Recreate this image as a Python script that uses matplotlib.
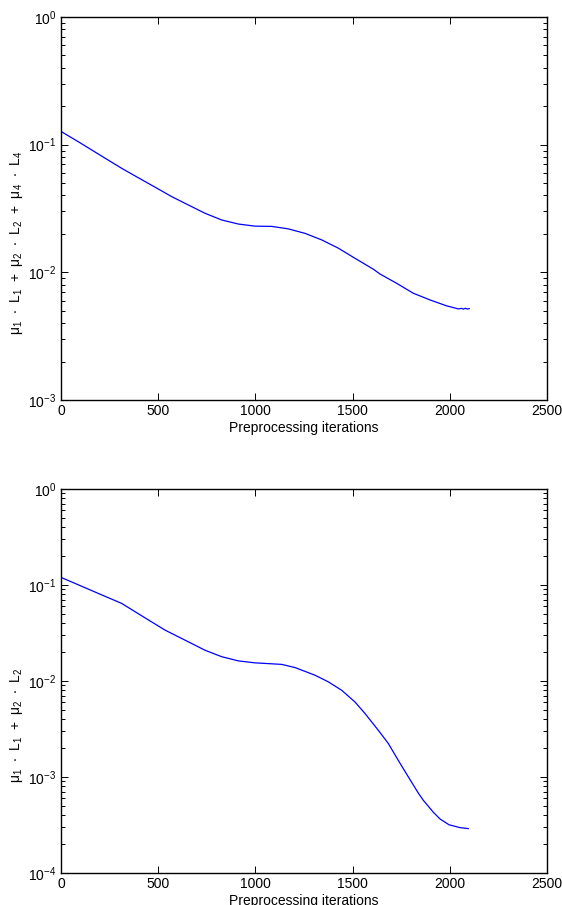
import matplotlib
matplotlib.use("Agg")
import matplotlib.pyplot as plt
from matplotlib.ticker import LogLocator, NullFormatter, MultipleLocator

plt.rcParams['font.family'] = ['Liberation Sans', 'DejaVu Sans']
plt.rcParams['mathtext.default'] = 'regular'
plt.rcParams['mathtext.fontset'] = 'custom'
plt.rcParams['mathtext.rm'] = 'Liberation Sans'

# Top panel: mu1*L1 + mu2*L2 + mu4*L4
iters_top = [0, 100, 200, 312, 400, 500, 569, 650, 741, 827, 912, 998, 1084, 1169,
             1255, 1341, 1427, 1512, 1607, 1641, 1727, 1812, 1898, 1984, 2044,
             2060, 2070, 2080, 2090, 2100]
loss_top = [0.127, 0.103, 0.083, 0.0653, 0.0548, 0.045, 0.0392, 0.034, 0.029,
            0.0257, 0.0239, 0.0230, 0.0229, 0.0219, 0.0202, 0.01795, 0.01545, 0.01289,
            0.01057, 0.0097, 0.0082, 0.00686, 0.00608, 0.00546, 0.00517, 0.00522,
            0.00515, 0.00523, 0.00516, 0.0052]

# Bottom panel: mu1*L1 + mu2*L2
iters_bot = [0, 141, 200, 312, 420, 535, 655, 741, 827, 912, 998, 1084, 1135, 1204,
             1307, 1375, 1444, 1512, 1564, 1632, 1684, 1735, 1787, 1838, 1864, 1915,
             1950, 1996, 2052, 2095]
loss_bot = [0.12, 0.0905, 0.0804, 0.0643, 0.0471, 0.0339, 0.0256, 0.0209, 0.0179, 0.0162,
            0.01545, 0.0151, 0.0149, 0.0138, 0.01148, 0.0098, 0.0080, 0.00605, 0.00458,
            0.00307, 0.00223, 0.00149, 0.001, 0.00068, 0.000571, 0.00043, 0.000365,
            0.000318, 0.000297, 0.00029]

xlabel = 'Preprocessing iterations'
ylabel_top = r'$\mu_1\ \cdot\ L_1\ +\ \mu_2\ \cdot\ L_2\ +\ \mu_4\ \cdot\ L_4$'
ylabel_bot = r'$\mu_1\ \cdot\ L_1\ +\ \mu_2\ \cdot\ L_2$'

W, H = 562, 905
fig = plt.figure(figsize=(W / 100, H / 100), dpi=100)

def make_ax(top_px, bottom_px):
    left = 61 / W
    width = (547 - 61) / W
    return fig.add_axes([left, (H - bottom_px) / H, width, (bottom_px - top_px) / H])

ax1 = make_ax(17, 400)
ax2 = make_ax(489, 873)

for ax, x, y, ylab, ylim, lab_y in [(ax1, iters_top, loss_top, ylabel_top, (1e-3, 1), 0.41),
                                    (ax2, iters_bot, loss_bot, ylabel_bot, (1e-4, 1), 0.385)]:
    ax.plot(x, y, color='#0000ff', lw=0.9)
    ax.set_yscale('log')
    ax.set_xlim(0, 2500)
    ax.set_ylim(*ylim)
    ax.xaxis.set_major_locator(MultipleLocator(500))
    ax.yaxis.set_major_locator(LogLocator(base=10, numticks=10))
    ax.yaxis.set_minor_locator(LogLocator(base=10, subs=range(2, 10), numticks=20))
    ax.yaxis.set_minor_formatter(NullFormatter())
    ax.tick_params(which='both', direction='in', top=True, right=True,
                   labelsize=10, width=0.7, colors='black')
    ax.tick_params(which='major', length=5)
    ax.tick_params(which='minor', length=3)
    ax.tick_params(axis='x', pad=3)
    ax.set_xlabel(xlabel, fontsize=10, labelpad=2)
    ax.set_ylabel(ylab, fontsize=10)
    ax.yaxis.set_label_coords(-0.075, lab_y)
    for s in ax.spines.values():
        s.set_linewidth(1.0)
        s.set_color('black')

fig.savefig('out.png', dpi=100)
